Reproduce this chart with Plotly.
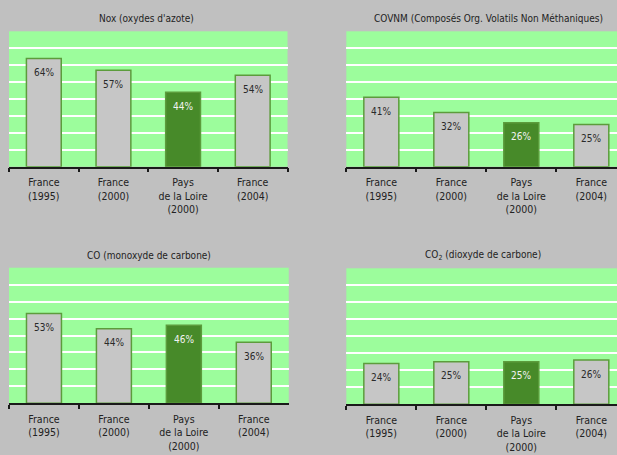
import plotly.graph_objects as go

categories = ["France<br>(1995)", "France<br>(2000)", "Pays<br>de la Loire<br>(2000)", "France<br>(2004)"]
nox = [64, 57, 44, 54]
covnm = [41, 32, 26, 25]
co = [53, 44, 46, 36]
co2 = [24, 25, 25, 26]
titles = [
    "Nox (oxydes d'azote)",
    "COVNM (Composés Org. Volatils Non Méthaniques)",
    "CO (monoxyde de carbone)",
    "CO<sub>2</sub> (dioxyde de carbone)",
]
series = [nox, covnm, co, co2]
highlight = 2

FONT = "DejaVu Sans Condensed, Liberation Sans Narrow, sans-serif"
PAGE_BG = "#c0c0c0"
PLOT_BG = "#9cfd9c"
GRAY_BAR = "#c6c6c6"
GREEN_BAR = "#478a29"
BORDER = "#5c9c3c"
AXIS = "#1a1a1a"

# panel geometry: (x domain, y domain, x range upper, title x, title y)
panels = [
    ([0.0146, 0.466], [0.6336, 0.9312], 3.5, 0.237, 0.960),
    ([0.5613, 1.0], [0.6336, 0.9312], 3.367, 0.792, 0.960),
    ([0.0146, 0.468], [0.1136, 0.4116], 3.5, 0.242, 0.439),
    ([0.5613, 1.0], [0.1114, 0.4103], 3.367, 0.783, 0.439),
]

fig = go.Figure()
annotations = []
layout = {}
n = len(categories)

for k, (vals, title, (xd, yd, xmax, tx, ty)) in enumerate(zip(series, titles, panels)):
    idx = k + 1
    xa = "x" if idx == 1 else f"x{idx}"
    ya = "y" if idx == 1 else f"y{idx}"
    colors = [GREEN_BAR if i == highlight else GRAY_BAR for i in range(n)]
    fig.add_trace(go.Bar(
        x=categories, y=vals, width=0.5,
        marker=dict(color=colors, line=dict(color=BORDER, width=1.5)),
        xaxis=xa, yaxis=ya, showlegend=False, hoverinfo="skip",
    ))
    for i, (c, v) in enumerate(zip(categories, vals)):
        annotations.append(dict(
            x=c, y=v, xref=xa, yref=ya, text=f"{v}%", showarrow=False,
            yanchor="middle", xanchor="center", yshift=-14,
            font=dict(family=FONT, size=10,
                      color="#f2f2f2" if i == highlight else "#2a2a2a"),
        ))
    annotations.append(dict(
        x=tx, y=ty, xref="paper", yref="paper", text=title, showarrow=False,
        xanchor="center", yanchor="middle",
        font=dict(family=FONT, size=10, color="#1e1e1e"),
    ))
    xkey = "xaxis" if idx == 1 else f"xaxis{idx}"
    ykey = "yaxis" if idx == 1 else f"yaxis{idx}"
    layout[xkey] = dict(
        domain=xd, anchor=ya, type="category", range=[-0.5, xmax],
        tickson="boundaries", ticks="outside", ticklen=4, tickwidth=1.5,
        tickcolor=AXIS, showline=True, linecolor=AXIS, linewidth=1.5,
        showgrid=False, zeroline=False, fixedrange=True,
        tickfont=dict(family=FONT, size=10.5, color="#222222"),
        ticklabelstandoff=5,
    )
    layout[ykey] = dict(
        domain=yd, anchor=xa, range=[0, 80], dtick=10, tick0=0,
        showgrid=True, gridcolor="white", gridwidth=1.5,
        showticklabels=False, ticks="", zeroline=False, showline=False,
        fixedrange=True,
    )
    # overlay axis for the upward half of the boundary ticks
    okey = f"xaxis{idx + 4}"
    layout[okey] = dict(
        overlaying=xa, anchor=ya, type="linear", range=[-0.5, xmax],
        tickmode="array", tickvals=[i - 0.5 for i in range(n + 1)],
        ticks="inside", ticklen=3.5, tickwidth=1.5, tickcolor=AXIS,
        showticklabels=False, showgrid=False, showline=False, zeroline=False,
        fixedrange=True,
    )

fig.update_layout(
    width=617, height=455,
    margin=dict(l=0, r=0, t=0, b=0),
    paper_bgcolor=PAGE_BG, plot_bgcolor=PLOT_BG,
    annotations=annotations, bargap=0.5,
    **layout,
)

fig.write_html("out.html")
